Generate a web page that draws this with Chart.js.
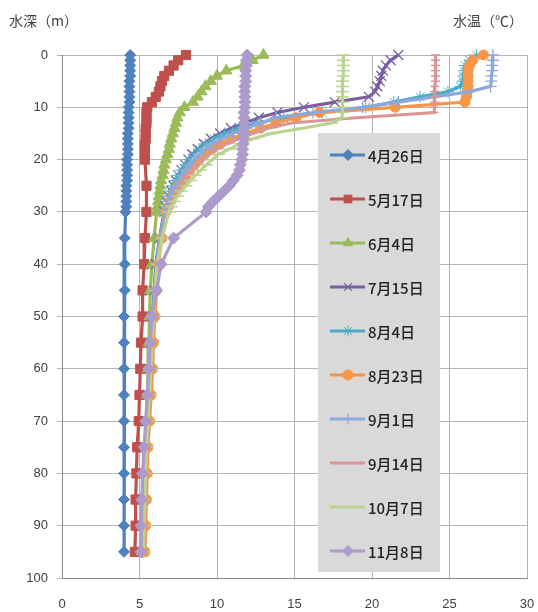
<!DOCTYPE html>
<html lang="ja">
<head>
<meta charset="utf-8">
<title>水温の鉛直分布</title>
<script src="https://cdn.jsdelivr.net/npm/chart.js@4/dist/chart.umd.min.js"></script>
<style>
html,body{margin:0;padding:0;background:#fff;}
#wrap{position:relative;width:538px;height:612px;}
#c{position:absolute;left:0;top:0;}
.ttl{position:absolute;font-family:"Noto Sans CJK JP",sans-serif;font-size:14px;color:#404040;white-space:nowrap;line-height:1;}
</style>
</head>
<body>
<div id="wrap">
<canvas id="c" width="538" height="612"></canvas>
<div class="ttl" style="left:9px;top:13px;">水深（m）</div>
<div class="ttl" style="left:453px;top:13px;">水温（℃）</div>
</div>
<script>
// Observation depths (m): 1 m steps to 30 m, then every 5 m
const depthsMain = [0,1,2,3,4,5,6,7,8,9,10,11,12,13,14,15,16,17,18,19,20,
  21,22,23,24,25,26,27,28,29,30,35,40,45,50,55,60,65,70,75,80,85,90,95];
// The May survey used 1 m steps only down to 20 m
const depthsMay = [0,1,2,3,4,5,6,7,8,9,10,11,12,13,14,15,16,17,18,19,20,
  25,30,35,40,45,50,55,60,65,70,75,80,85,90,95];

const seriesLabels = ['4月26日','5月17日','6月4日','7月15日','8月4日','8月23日','9月1日','9月14日','10月7日','11月8日'];

// Water temperature (°C) at each depth
const t0426 = [4.4,4.4,4.4,4.4,4.4,4.35,4.35,4.35,4.35,4.35,4.3,4.3,4.3,4.3,4.3,4.25,4.25,4.25,4.25,4.25,4.2,
  4.2,4.2,4.2,4.2,4.15,4.15,4.15,4.15,4.15,4.1,4.05,4.05,4.05,4.0,4.0,4.0,4.0,4.0,4.0,4.0,4.0,4.0,4.0];
const t0517 = [8.0,7.5,7.2,6.9,6.6,6.45,6.35,6.25,6.05,5.8,5.5,5.45,5.45,5.45,5.4,5.4,5.4,5.35,5.35,5.35,5.35,
  5.45,5.45,5.35,5.3,5.2,5.2,5.1,5.05,5.0,4.95,4.85,4.8,4.75,4.75,4.7];
const t0604 = [13.0,12.3,11.7,10.6,10.0,9.6,9.25,9.0,8.75,8.45,7.9,7.6,7.45,7.35,7.25,7.15,7.05,6.95,6.9,6.8,6.7,
  6.6,6.55,6.5,6.4,6.35,6.3,6.25,6.2,6.15,6.1,5.95,5.8,5.7,5.65,5.6,5.55,5.5,5.45,5.4,5.3,5.25,5.2,5.15];
const t0715 = [21.7,21.2,20.9,20.7,20.6,20.5,20.35,20.2,19.8,17.6,15.6,13.9,12.7,11.8,10.9,10.2,9.6,9.15,8.75,8.4,8.15,
  7.95,7.7,7.5,7.35,7.2,7.05,6.9,6.8,6.7,6.6,6.3,6.05,5.95,5.85,5.75,5.65,5.55,5.45,5.35,5.3,5.25,5.2,5.15];
const t0804 = [26.75,26.3,26.0,25.95,25.9,25.85,25.7,24.9,23.1,21.4,19.6,16.8,14.3,12.6,11.4,10.5,9.8,9.25,8.85,8.5,8.2,
  7.95,7.7,7.5,7.3,7.15,7.0,6.9,6.8,6.7,6.6,6.3,6.1,5.95,5.85,5.75,5.7,5.6,5.5,5.4,5.35,5.3,5.25,5.2];
const t0823 = [27.2,26.5,26.3,26.2,26.2,26.2,26.2,26.15,26.1,26.0,21.5,16.6,15.1,13.8,12.8,11.8,10.9,10.2,9.65,9.2,8.85,
  8.55,8.25,8.0,7.75,7.5,7.3,7.15,7.0,6.85,6.7,6.45,6.2,6.1,6.0,5.9,5.85,5.75,5.65,5.55,5.5,5.45,5.4,5.35];
const t0901 = [27.8,27.8,27.75,27.75,27.7,27.7,27.65,26.3,24.0,21.7,19.4,16.2,13.8,12.8,11.9,11.0,10.3,9.7,9.25,8.9,8.55,
  8.3,8.0,7.75,7.55,7.35,7.15,7.0,6.85,6.75,6.65,6.35,6.1,6.0,5.9,5.8,5.7,5.6,5.5,5.45,5.4,5.3,5.25,5.2];
const t0914 = [24.1,24.1,24.1,24.1,24.1,24.1,24.05,24.05,24.05,24.05,24.0,24.0,19.0,14.8,13.3,12.3,11.4,10.6,10.0,9.5,9.1,
  8.75,8.45,8.2,7.95,7.7,7.5,7.3,7.1,6.95,6.8,6.4,6.15,6.0,5.9,5.8,5.75,5.65,5.55,5.5,5.4,5.35,5.3,5.25];
const t1007 = [18.15,18.15,18.15,18.15,18.15,18.1,18.1,18.1,18.1,18.1,18.1,18.1,18.05,17.4,15.5,13.5,12.3,11.5,10.8,10.1,9.7,
  9.3,8.95,8.6,8.3,8.0,7.7,7.45,7.25,7.05,6.9,6.45,6.15,6.0,5.9,5.8,5.75,5.65,5.55,5.45,5.4,5.35,5.3,5.25];
const t1108 = [11.95,11.9,11.9,11.85,11.85,11.85,11.8,11.8,11.8,11.8,11.8,11.75,11.75,11.75,11.75,11.7,11.7,11.7,11.65,11.65,11.6,
  11.5,11.45,11.3,11.05,10.8,10.45,10.1,9.75,9.45,9.3,7.2,6.4,6.1,5.8,5.7,5.6,5.5,5.4,5.3,5.2,5.15,5.1,5.1];

const temperatures = [t0426,t0517,t0604,t0715,t0804,t0823,t0901,t0914,t1007,t1108];
const depthSets   = [depthsMain,depthsMay,depthsMain,depthsMain,depthsMain,depthsMain,depthsMain,depthsMain,depthsMain,depthsMain];

const xTicks = [0,5,10,15,20,25,30];
const yTicks = [0,10,20,30,40,50,60,70,80,90,100];

// Line colour and marker per survey
const styles = [
  {color:'#4F81BD', point:'rectRot',  r:5.5, bw:1},
  {color:'#C0504D', point:'rect',     r:6.5, bw:1},
  {color:'#9BBB59', point:'triangle', r:6.5, bw:1},
  {color:'#7A5FA0', point:'crossRot', r:7,   bw:1.3},
  {color:'#4BACC6', point:'star',     r:6,   bw:1},
  {color:'#F79646', point:'circle',   r:5,   bw:1},
  {color:'#8DA9DB', point:'cross',    r:6,   bw:1.3},
  {color:'#DA9694', point:'line',     r:4.5, bw:1.5},
  {color:'#BBD390', point:'line',     r:6.5, bw:1.5},
  {color:'#AC9BCB', point:'rectRot',  r:6,   bw:1}
];

const datasets = seriesLabels.map((label, i) => ({
  label,
  data: temperatures[i].map((t, k) => ({x: t, y: depthSets[i][k]})),
  showLine: true,
  borderColor: styles[i].color,
  backgroundColor: styles[i].color,
  borderWidth: 3.2,
  pointStyle: styles[i].point,
  pointRadius: styles[i].r,
  pointBackgroundColor: styles[i].color,
  pointBorderColor: styles[i].color,
  pointBorderWidth: styles[i].bw,
  pointHoverRadius: styles[i].r,
  order: seriesLabels.length - i,
  clip: false
}));

// Grey legend panel drawn inside the plot area
const boxLegend = {
  id: 'boxLegend',
  afterDatasetsDraw(chart, args, o) {
    const ctx = chart.ctx;
    ctx.save();
    ctx.fillStyle = o.fill;
    ctx.fillRect(o.left, o.top, o.width, o.height);
    chart.data.datasets.forEach((ds, i) => {
      const y = o.top + o.first + i * o.step;
      ctx.strokeStyle = ds.borderColor;
      ctx.lineWidth = 3;
      ctx.beginPath();
      ctx.moveTo(o.left + 12, y);
      ctx.lineTo(o.left + 47, y);
      ctx.stroke();
      ctx.fillStyle = ds.pointBackgroundColor;
      ctx.strokeStyle = ds.pointBorderColor;
      ctx.lineWidth = ds.pointBorderWidth;
      Chart.helpers.drawPoint(ctx, {pointStyle: ds.pointStyle, radius: Math.min(ds.pointRadius, 5.5), rotation: 0, borderWidth: ds.pointBorderWidth}, o.left + 30, y);
      ctx.fillStyle = o.color;
      ctx.font = o.font;
      ctx.textAlign = 'left';
      ctx.textBaseline = 'middle';
      ctx.fillText(ds.label, o.left + 50, y + 1);
    });
    ctx.restore();
  }
};

const tickFont = {family: '"Liberation Sans", sans-serif', size: 13};
const gridColor = '#b4b4b4';
const axisColor = '#8a8a8a';

new Chart(document.getElementById('c'), {
  type: 'scatter',
  data: {datasets},
  plugins: [boxLegend],
  options: {
    responsive: false,
    animation: false,
    devicePixelRatio: 1,
    events: [],
    layout: {padding: {left: 0, right: 11, top: 55, bottom: 0}},
    plugins: {
      legend: {display: false},
      tooltip: {enabled: false},
      boxLegend: {
        left: 318, top: 133, width: 122, height: 439,
        first: 22, step: 44, fill: '#d9d9d9', color: '#222222',
        font: '500 15px "Noto Sans CJK JP", sans-serif'
      }
    },
    scales: {
      x: {
        type: 'linear', position: 'bottom', min: xTicks[0], max: xTicks[xTicks.length - 1],
        afterBuildTicks: s => { s.ticks = xTicks.map(v => ({value: v})); },
        ticks: {font: tickFont, color: '#404040', padding: 19, maxRotation: 0},
        grid: {color: gridColor, drawTicks: false},
        border: {color: axisColor},
        afterFit: s => { s.height = 34; s.paddingLeft = 0; s.paddingRight = 0; }
      },
      y: {
        type: 'linear', reverse: true, min: yTicks[0], max: yTicks[yTicks.length - 1],
        afterBuildTicks: s => { s.ticks = yTicks.map(v => ({value: v})); },
        ticks: {font: tickFont, color: '#404040', padding: 9},
        grid: {color: gridColor, tickLength: 5},
        border: {color: axisColor},
        afterFit: s => { s.width = 62; }
      }
    }
  }
});
</script>
</body>
</html>
